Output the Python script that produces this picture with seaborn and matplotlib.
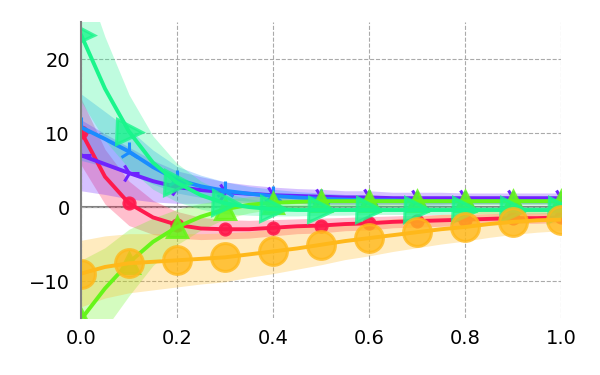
import numpy as np
import matplotlib
matplotlib.use('Agg')
import matplotlib.pyplot as plt
import seaborn as sns


# x grid, markers every 0.1
x_vals = [0.0, 0.05, 0.1, 0.15, 0.2, 0.25, 0.3, 0.35, 0.4, 0.45, 0.5,
          0.55, 0.6, 0.65, 0.7, 0.75, 0.8, 0.85, 0.9, 0.95, 1.0]

purple_y = [7.0, 5.8, 4.6, 3.5, 2.7, 2.3, 2.0, 1.8, 1.6, 1.5, 1.4,
            1.3, 1.3, 1.2, 1.2, 1.2, 1.2, 1.2, 1.2, 1.2, 1.2]
purple_sd = [4.8, 4.1, 3.5, 2.8, 2.2, 1.8, 1.4, 1.2, 1.1, 1.0, 1.0,
             0.9, 0.9, 0.8, 0.8, 0.8, 0.7, 0.7, 0.7, 0.7, 0.7]

blue_y = [10.8, 9.2, 7.5, 5.4, 3.7, 2.8, 2.2, 1.8, 1.5, 1.3, 1.1,
          1.0, 0.9, 0.9, 0.8, 0.8, 0.8, 0.8, 0.8, 0.8, 0.8]
blue_sd = [4.5, 3.7, 3.0, 2.3, 1.8, 1.5, 1.2, 1.0, 0.9, 0.8, 0.8,
           0.7, 0.7, 0.6, 0.6, 0.6, 0.5, 0.5, 0.5, 0.5, 0.5]

spring_y = [23.3, 16.0, 10.2, 6.0, 3.3, 1.6, 0.5, 0.0, -0.3, -0.4, -0.4,
            -0.4, -0.4, -0.4, -0.4, -0.4, -0.4, -0.4, -0.4, -0.4, -0.4]
spring_sd = [9.0, 7.0, 5.0, 3.6, 2.6, 1.9, 1.4, 1.1, 0.9, 0.8, 0.7,
             0.7, 0.6, 0.6, 0.6, 0.6, 0.5, 0.5, 0.5, 0.5, 0.5]

lime_y = [-15.2, -11.0, -7.5, -4.7, -2.7, -1.3, -0.3, 0.3, 0.6, 0.7, 0.8,
          0.8, 0.8, 0.8, 0.8, 0.8, 0.8, 0.8, 0.8, 0.8, 0.8]
lime_sd = [8.0, 5.5, 4.5, 3.2, 2.4, 1.8, 1.3, 1.1, 0.9, 0.8, 0.7,
           0.7, 0.6, 0.6, 0.6, 0.5, 0.5, 0.5, 0.5, 0.5, 0.5]

amber_y = [-9.0, -8.1, -7.6, -7.4, -7.2, -7.0, -6.8, -6.4, -6.0, -5.6, -5.1,
           -4.6, -4.2, -3.8, -3.4, -3.0, -2.7, -2.3, -2.0, -1.8, -1.7]
amber_sd = [4.5, 4.2, 4.0, 3.8, 3.6, 3.4, 3.3, 3.1, 3.0, 2.8, 2.7,
            2.5, 2.4, 2.2, 2.1, 2.0, 1.9, 1.8, 1.7, 1.6, 1.5]

red_y = [10.2, 4.1, 0.5, -1.4, -2.4, -2.9, -3.0, -3.0, -2.8, -2.6, -2.5,
         -2.3, -2.2, -2.0, -1.9, -1.8, -1.7, -1.6, -1.5, -1.5, -1.4]
red_sd = [4.5, 3.7, 3.0, 2.3, 1.8, 1.5, 1.3, 1.2, 1.1, 1.0, 1.0,
          0.9, 0.9, 0.8, 0.8, 0.8, 0.7, 0.7, 0.7, 0.7, 0.7]

x_ticks = [0.0, 0.2, 0.4, 0.6, 0.8, 1.0]
y_ticks = [-10, 0, 10, 20]
y_ticklabels = ['\u221210', '0', '10', '20']

# (values, spread, color, marker, markersize, marker alpha)
SERIES = [
    (red_y,    red_sd,    '#ff1a4d', 'o', 8,  0.9),
    (purple_y, purple_sd, '#6f22ff', '4', 15, 1.0),
    (blue_y,   blue_sd,   '#1a8cff', '2', 15, 1.0),
    (lime_y,   lime_sd,   '#66f51a', '^', 15, 0.85),
    (spring_y, spring_sd, '#1af58c', '>', 18, 0.8),
    (amber_y,  amber_sd,  '#ffb81a', 'o', 20, 0.8),
]

sns.set_theme(style='white')
plt.rcParams['font.family'] = ['DejaVu Sans']

fig, ax = plt.subplots(figsize=(6, 3.75), dpi=100)
fig.subplots_adjust(left=0.135, right=0.935, bottom=0.152, top=0.941)

x = np.array(x_vals)
for vals, sd, color, marker, ms, malpha in SERIES:
    y = np.array(vals)
    s = np.array(sd)
    ax.fill_between(x, y - s, y + s, color=color, alpha=0.28, lw=0)
    sns.lineplot(x=x, y=y, ax=ax, color=color, lw=2.8, errorbar=None)
    ax.plot(x[::2], y[::2], ls='', marker=marker, ms=ms, color=color,
            alpha=malpha, mew=2.2)

ax.axhline(0, color='#808080', lw=1.5, zorder=0.5)
ax.grid(True, ls='--', color='#aaaaaa', lw=0.8)
ax.set_axisbelow(True)

ax.set_xlim(0, 1)
ax.set_ylim(-15, 25)
ax.set_xticks(x_ticks)
ax.set_yticks(y_ticks)
ax.set_yticklabels(y_ticklabels)
ax.tick_params(labelsize=14, length=0, pad=8, labelcolor='black')

for side in ['top', 'right', 'bottom']:
    ax.spines[side].set_visible(False)
ax.spines['left'].set_color('#808080')
ax.spines['left'].set_linewidth(1.5)
ax.set_xlabel('')
ax.set_ylabel('')

fig.savefig('out.png', dpi=100)
